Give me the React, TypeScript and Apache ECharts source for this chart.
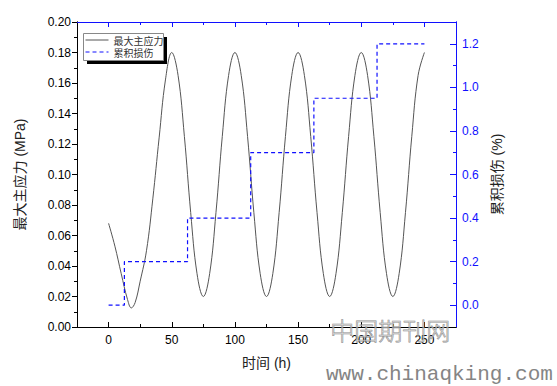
import React, { useEffect, useRef } from "react";
import * as echarts from "echarts";

// ---- data ----
const stressTimes = [
  0, 5, 10, 15, 18, 21, 25, 30, 35, 40, 45, 50,
  55, 60, 65, 70, 75, 80, 85, 90, 95, 100,
  105, 110, 115, 120, 125, 130, 135, 140, 145, 150,
  155, 160, 165, 170, 175, 180, 185, 190, 195, 200,
  205, 210, 215, 220, 225, 230, 235, 240, 245, 250,
];
const stressValues = [
  0.068, 0.053, 0.035, 0.018, 0.0125, 0.016, 0.03, 0.05, 0.084, 0.124, 0.162, 0.18,
  0.165, 0.125, 0.075, 0.035, 0.02, 0.035, 0.075, 0.125, 0.165, 0.18,
  0.165, 0.125, 0.075, 0.035, 0.02, 0.035, 0.075, 0.125, 0.165, 0.18,
  0.165, 0.125, 0.075, 0.035, 0.02, 0.035, 0.075, 0.125, 0.165, 0.18,
  0.165, 0.125, 0.075, 0.035, 0.02, 0.035, 0.075, 0.125, 0.165, 0.18,
];
const damageTimes = [0, 12.5, 62.5, 112.5, 162.5, 212.5, 250];
const damageValues = [0, 0.2, 0.4, 0.7, 0.95, 1.2, 1.2];

const xMajorTicks = [0, 50, 100, 150, 200, 250];
const xMinorTicks = [25, 75, 125, 175, 225];
const leftMajorTicks = [0, 0.02, 0.04, 0.06, 0.08, 0.1, 0.12, 0.14, 0.16, 0.18, 0.2];
const leftMinorTicks = [0.01, 0.03, 0.05, 0.07, 0.09, 0.11, 0.13, 0.15, 0.17, 0.19];
const rightMajorTicks = [0, 0.2, 0.4, 0.6, 0.8, 1.0, 1.2];
const rightMinorTicks = [0.1, 0.3, 0.5, 0.7, 0.9, 1.1];

const seriesNames = ["最大主应力", "累积损伤"];
const xTitle = "时间 (h)";
const leftTitle = "最大主应力 (MPa)";
const rightTitle = "累积损伤 (%)";

const BLUE = "#1010ff";
const FONT = "'Liberation Sans', Arial, 'Noto Sans CJK SC', sans-serif";

export default function App() {
  const ref = useRef<HTMLDivElement>(null);

  useEffect(() => {
    document.body.style.margin = "0";
    if (!ref.current) return;
    const chart = echarts.init(ref.current, undefined, { renderer: "svg" });

    const xBase = { type: "value", min: -25, max: 275, splitLine: { show: false } };
    const titleStyle = { color: "#222", fontSize: 14, fontFamily: FONT };
    const line = (color: string) => ({ show: true, onZero: false, lineStyle: { color, width: 1 } });

    chart.setOption({
      animation: false,
      backgroundColor: "#fff",
      textStyle: { fontFamily: FONT },
      grid: { left: 77, right: 101, top: 22, bottom: 59, containLabel: false },
      legend: {
        left: 83,
        top: 33,
        orient: "vertical",
        padding: [2, 3, 3, 2],
        itemGap: 2,
        itemWidth: 23,
        itemHeight: 10,
        itemTextGap: 3,
        z: 6,
        itemStyle: { opacity: 0 },
        lineStyle: { width: 1 },
        textStyle: {
          fontSize: 10,
          lineHeight: 10,
          color: "#333",
          fontFamily: "'Noto Sans CJK SC', sans-serif",
        },
        data: seriesNames,
      },
      xAxis: [
        {
          ...xBase,
          position: "bottom",
          axisLine: line("#000"),
          axisTick: { show: true, inside: true, length: 5, customValues: xMajorTicks, lineStyle: { color: "#000" } },
          axisLabel: { customValues: xMajorTicks, margin: 7, color: "#000", fontSize: 12 },
          name: xTitle,
          nameLocation: "middle",
          nameGap: 29,
          nameTextStyle: titleStyle,
        },
        {
          ...xBase,
          position: "bottom",
          axisLine: line("#000"),
          axisTick: { show: true, inside: true, length: 3, customValues: xMinorTicks, lineStyle: { color: "#000" } },
          axisLabel: { show: false },
        },
        {
          ...xBase,
          position: "top",
          axisLine: line(BLUE),
          axisTick: { show: true, inside: true, length: 5, customValues: xMajorTicks, lineStyle: { color: BLUE } },
          axisLabel: { show: false },
        },
        {
          ...xBase,
          position: "top",
          axisLine: line(BLUE),
          axisTick: { show: true, inside: true, length: 3, customValues: xMinorTicks, lineStyle: { color: BLUE } },
          axisLabel: { show: false },
        },
      ],
      yAxis: [
        {
          type: "value",
          position: "left",
          min: 0,
          max: 0.2,
          interval: 0.02,
          splitLine: { show: false },
          axisLine: line("#000"),
          axisTick: { show: true, inside: false, length: 5, customValues: leftMajorTicks, lineStyle: { color: "#000" } },
          axisLabel: {
            customValues: leftMajorTicks,
            margin: 6,
            color: "#000",
            fontSize: 12,
            formatter: (v: number) => v.toFixed(2),
          },
          name: leftTitle,
          nameLocation: "middle",
          nameRotate: 90,
          nameGap: 50,
          nameTextStyle: titleStyle,
        },
        {
          type: "value",
          position: "right",
          min: -0.1,
          max: 1.3,
          splitLine: { show: false },
          axisLine: line(BLUE),
          axisTick: { show: true, inside: true, length: 6, customValues: rightMajorTicks, lineStyle: { color: BLUE } },
          axisLabel: {
            customValues: rightMajorTicks,
            margin: 6,
            color: BLUE,
            fontSize: 12,
            formatter: (v: number) => v.toFixed(1),
          },
          name: rightTitle,
          nameLocation: "middle",
          nameRotate: 90,
          nameGap: 20,
          nameTextStyle: titleStyle,
        },
        {
          type: "value",
          position: "left",
          min: 0,
          max: 0.2,
          splitLine: { show: false },
          axisLine: line("#000"),
          axisTick: { show: true, inside: false, length: 3, customValues: leftMinorTicks, lineStyle: { color: "#000" } },
          axisLabel: { show: false },
        },
        {
          type: "value",
          position: "right",
          min: -0.1,
          max: 1.3,
          splitLine: { show: false },
          axisLine: line(BLUE),
          axisTick: { show: true, inside: true, length: 3, customValues: rightMinorTicks, lineStyle: { color: BLUE } },
          axisLabel: { show: false },
        },
      ],
      series: [
        {
          name: seriesNames[0],
          type: "line",
          xAxisIndex: 0,
          yAxisIndex: 0,
          data: stressTimes.map((t, i) => [t, stressValues[i]]),
          smooth: 0.4,
          symbol: "none",
          lineStyle: { color: "#555", width: 1 },
          itemStyle: { color: "#555" },
          z: 2,
        },
        {
          name: seriesNames[1],
          type: "line",
          xAxisIndex: 0,
          yAxisIndex: 1,
          step: "end",
          data: damageTimes.map((t, i) => [t, damageValues[i]]),
          symbol: "none",
          lineStyle: { color: BLUE, width: 1.2, type: [4, 3] },
          itemStyle: { color: BLUE },
          z: 3,
        },
      ],
      graphic: [
        {
          type: "rect",
          left: 87,
          top: 37,
          shape: { width: 80, height: 27 },
          style: { fill: "#000" },
          z: 4,
        },
        {
          type: "rect",
          left: 83,
          top: 33,
          shape: { width: 80, height: 27 },
          style: { fill: "#fff", stroke: "#888", lineWidth: 1 },
          z: 5,
        },
        {
          type: "text",
          left: 330,
          top: 317,
          z: 10,
          style: {
            text: "中国期刊网",
            font: "300 24px 'Noto Sans CJK SC', sans-serif",
            fill: "rgba(210,210,210,0.5)",
            stroke: "#8a8a8a",
            lineWidth: 0.7,
          },
        },
        {
          type: "text",
          left: 326,
          top: 364,
          z: 10,
          style: {
            text: "www.chinaqking.com",
            font: "21px 'Liberation Mono', 'DejaVu Sans Mono', monospace",
            fill: "#858585",
          },
        },
      ],
    });

    return () => chart.dispose();
  }, []);

  return <div ref={ref} style={{ width: 557, height: 386 }} />;
}
